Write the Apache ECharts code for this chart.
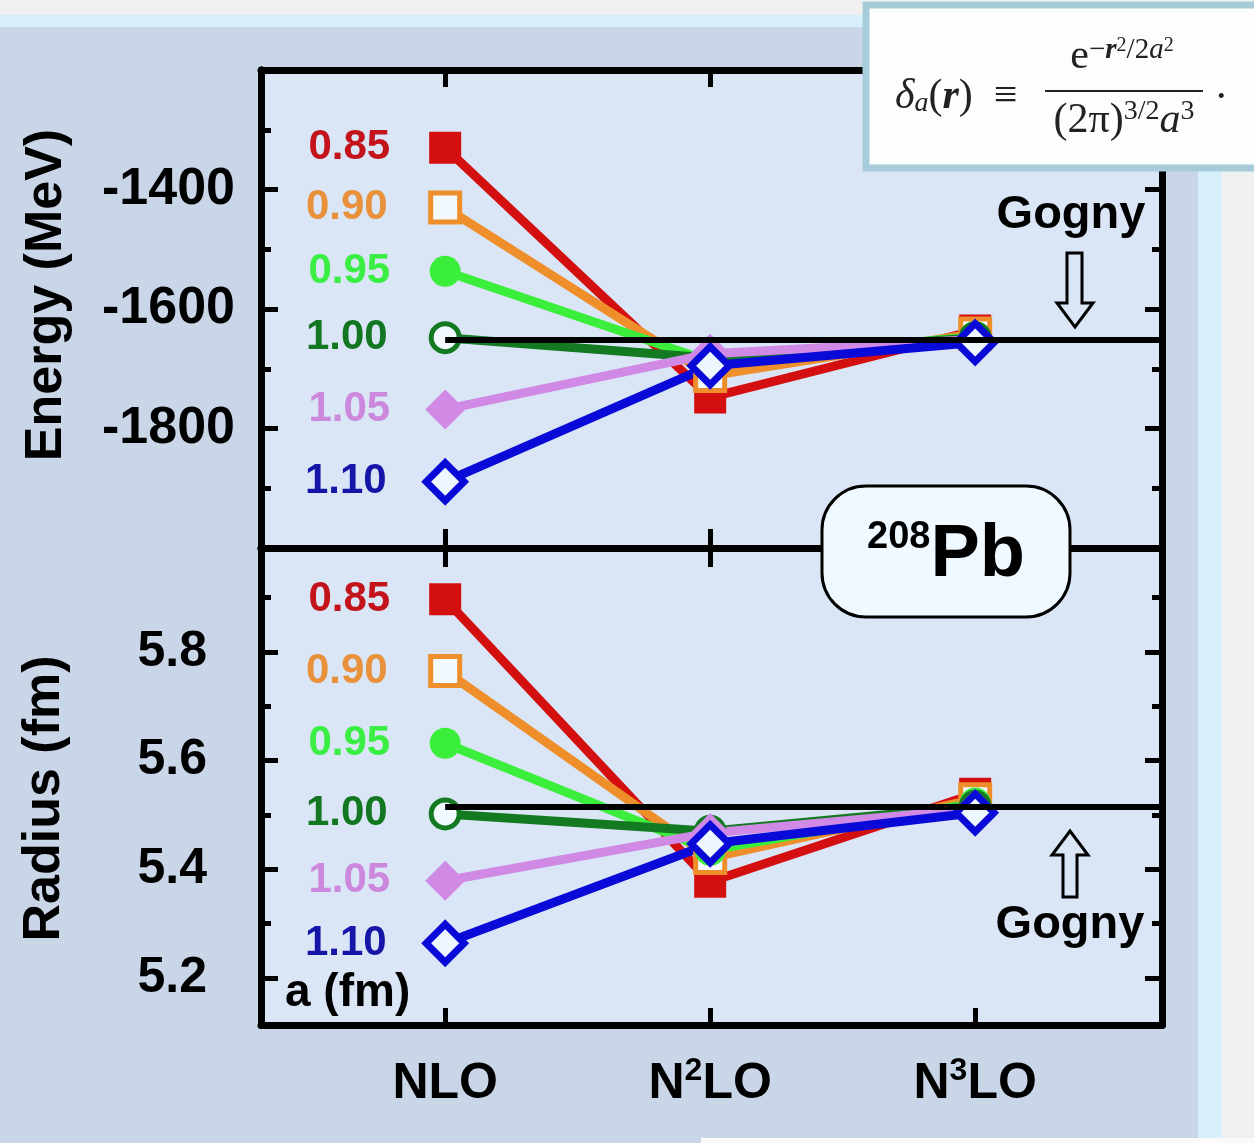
<!DOCTYPE html>
<html>
<head>
<meta charset="utf-8">
<script src="https://cdn.jsdelivr.net/npm/echarts@6/dist/echarts.min.js"></script>
<style>
  html, body { margin: 0; padding: 0; background: #f0f0f0; }
  #chart { width: 1254px; height: 1143px; }
</style>
</head>
<body>
<div id="chart"></div>
<script>
const chart = echarts.init(document.getElementById('chart'));

// x positions: 1 = NLO, 2 = N2LO, 3 = N3LO
const orders = [1, 2, 3];
const orderLabels = ['NLO', 'N{sup|2}LO', 'N{sup|3}LO'];
const aValues = ['0.85', '0.90', '0.95', '1.00', '1.05', '1.10'];

// binding energy of 208Pb (MeV)
const energy085 = [-1330, -1748, -1636];
const energy090 = [-1430, -1712, -1641];
const energy095 = [-1537, -1688, -1646];
const energy100 = [-1648, -1682, -1648];
const energy105 = [-1768, -1675, -1651];
const energy110 = [-1889, -1695, -1656];
const gognyEnergy = -1651;

// charge radius (fm)
const radius085 = [5.897, 5.377, 5.539];
const radius090 = [5.765, 5.421, 5.529];
const radius095 = [5.632, 5.435, 5.522];
const radius100 = [5.502, 5.470, 5.516];
const radius105 = [5.379, 5.467, 5.511];
const radius110 = [5.264, 5.447, 5.504];
const gognyRadius = 5.515;

const energyMajor = [-1800, -1600, -1400];
const energyMinor = [-1900, -1700, -1500, -1300];
const radiusMajor = [5.2, 5.4, 5.6, 5.8];
const radiusMinor = [5.3, 5.5, 5.7, 5.9];

const energySets = [energy085, energy090, energy095, energy100, energy105, energy110];
const radiusSets = [radius085, radius090, radius095, radius100, radius105, radius110];

const styles = [
  { line: '#d40f0f', text: '#c3141c', symbol: 'rect', size: 32, fill: '#d40f0f', border: 0 },
  { line: '#ef8f2c', text: '#e8903a', symbol: 'rect', size: 29, fill: '#f2faff', border: 5 },
  { line: '#3cee3c', text: '#3aee44', symbol: 'circle', size: 31, fill: '#3cee3c', border: 0 },
  { line: '#137a22', text: '#137722', symbol: 'circle', size: 28, fill: '#f2faff', border: 5 },
  { line: '#d08ae6', text: '#cc88dd', symbol: 'diamond', size: 40, fill: '#d08ae6', border: 0 },
  { line: '#0a0ad8', text: '#1515a8', symbol: 'diamond', size: 38, fill: '#eef6ff', border: 7 }
];

const xMin = 0.305, xMax = 3.705;
const plotBg = '#dae6f6';
const frame = 7;
const bold = { fontFamily: 'Liberation Sans, Arial, sans-serif', fontWeight: 'bold', color: '#000' };

const xAxisBase = (grid, pos, len, labels) => ({
  type: 'value', gridIndex: grid, position: pos, min: xMin, max: xMax,
  axisLine: { show: true, onZero: false, lineStyle: { color: '#000', width: frame } },
  axisTick: { show: true, inside: true, length: len, customValues: orders, lineStyle: { color: '#000', width: 5 } },
  axisLabel: labels
    ? {
        show: true, customValues: orders, margin: 30,
        formatter: (v) => orderLabels[Math.round(v) - 1],
        ...bold, fontSize: 50, lineHeight: 58,
        rich: { sup: { ...bold, fontSize: 32, lineHeight: 32, verticalAlign: 'top', padding: [0, 0, 24, 0] } }
      }
    : { show: false },
  splitLine: { show: false }
});

const yAxisBase = (grid, pos, min, max, ticks, len, label) => ({
  type: 'value', gridIndex: grid, position: pos, min: min, max: max,
  axisLine: { show: true, onZero: false, lineStyle: { color: '#000', width: frame } },
  axisTick: { show: true, inside: true, length: len, customValues: ticks, lineStyle: { color: '#000', width: 5 } },
  axisLabel: label ? { show: true, customValues: ticks, ...label } : { show: false },
  splitLine: { show: false }
});

const energyLabel = { ...bold, fontSize: 52, margin: 26, formatter: (v) => String(v) };
const radiusLabel = { ...bold, fontSize: 50, margin: 54, formatter: (v) => v.toFixed(1) };

const yAxes = [
  { ...yAxisBase(0, 'left', -2000, -1200, energyMajor, 17, energyLabel),
    name: 'Energy (MeV)', nameLocation: 'middle', nameRotate: 90, nameGap: 188,
    nameTextStyle: { ...bold, fontSize: 52, padding: [0, 0, 0, 28] } },
  yAxisBase(0, 'left', -2000, -1200, energyMinor, 10, null),
  yAxisBase(0, 'right', -2000, -1200, energyMajor, 17, null),
  yAxisBase(0, 'right', -2000, -1200, energyMinor, 10, null),
  { ...yAxisBase(1, 'left', 5.1135, 5.9914, radiusMajor, 17, radiusLabel),
    name: 'Radius (fm)', nameLocation: 'middle', nameRotate: 90, nameGap: 190,
    nameTextStyle: { ...bold, fontSize: 52, padding: [0, 0, 0, -24] } },
  yAxisBase(1, 'left', 5.1135, 5.9914, radiusMinor, 10, null),
  yAxisBase(1, 'right', 5.1135, 5.9914, radiusMajor, 17, null),
  yAxisBase(1, 'right', 5.1135, 5.9914, radiusMinor, 10, null)
];

const makeSeries = (values, i, xIdx, yIdx) => {
  const s = styles[i];
  return {
    type: 'line', name: aValues[i], xAxisIndex: xIdx, yAxisIndex: yIdx,
    symbol: s.symbol, symbolSize: s.size,
    lineStyle: { color: s.line, width: 9 },
    itemStyle: { color: s.fill, borderColor: s.line, borderWidth: s.border },
    emphasis: { disabled: true },
    data: values.map((v, k) => ({
      value: [orders[k], v],
      label: k === 0
        ? { show: true, position: 'left', distance: 445 - s.size / 2 - 390,
            formatter: aValues[i], ...bold, color: s.text, fontSize: 42 }
        : { show: false }
    }))
  };
};

// Gogny reference line, running from NLO to the right frame
const gognySeries = (xIdx, yIdx, val) => ({
  type: 'line', xAxisIndex: xIdx, yAxisIndex: yIdx, data: [], z: 1,
  markLine: {
    silent: true, symbol: 'none', label: { show: false },
    lineStyle: { color: '#000', width: 6, type: 'solid' },
    data: [[{ coord: [orders[0], val] }, { coord: [xMax, val] }]]
  }
});

const series = [gognySeries(0, 0, gognyEnergy), gognySeries(3, 4, gognyRadius)];
energySets.forEach((vals, i) => series.push(makeSeries(vals, i, 0, 0)));
radiusSets.forEach((vals, i) => series.push(makeSeries(vals, i, 3, 4)));

const serif = 'Liberation Serif, Times New Roman, serif';

chart.setOption({
  backgroundColor: '#f0f0f0',
  animation: false,
  grid: [
    { left: 261, right: 92, top: 70, height: 478, show: true, backgroundColor: plotBg, borderWidth: 0 },
    { left: 261, right: 92, top: 548, height: 477, show: true, backgroundColor: plotBg, borderWidth: 0 }
  ],
  xAxis: [
    xAxisBase(0, 'bottom', 19, false),
    xAxisBase(0, 'top', 17, false),
    xAxisBase(1, 'top', 19, false),
    xAxisBase(1, 'bottom', 17, true)
  ],
  yAxis: yAxes,
  series: series,
  graphic: [
    // page backdrop
    { type: 'rect', z: -10, silent: true, shape: { x: 0, y: 15, width: 1222, height: 1128 }, style: { fill: '#d6effb' } },
    { type: 'rect', z: -9, silent: true, shape: { x: 0, y: 27, width: 1198, height: 1116 }, style: { fill: '#c8d6e7' } },
    { type: 'rect', z: -8, silent: true, shape: { x: 701, y: 1138, width: 553, height: 5 }, style: { fill: '#fafafa' } },
    // formula box
    { type: 'rect', z: 100, shape: { x: 866, y: 5, width: 400, height: 163 }, style: { fill: '#fdfdfd', stroke: '#a8cbd9', lineWidth: 7 } },
    { type: 'text', z: 101, x: 895, y: 97, style: {
        text: '{i|δ}{sub|a}{n|(}{b|r}{n|)  ≡}', verticalAlign: 'middle', fill: '#222',
        rich: {
          i: { fontFamily: serif, fontStyle: 'italic', fontSize: 42, fill: '#222' },
          sub: { fontFamily: serif, fontStyle: 'italic', fontSize: 28, fill: '#222', verticalAlign: 'bottom', padding: [14, 0, 0, 0] },
          n: { fontFamily: serif, fontSize: 42, fill: '#222' },
          b: { fontFamily: serif, fontStyle: 'italic', fontWeight: 'bold', fontSize: 42, fill: '#222' }
        } } },
    { type: 'text', z: 101, x: 1122, y: 78, style: {
        text: '{n|e}{s|−}{sb|r}{ss|2}{s|/2}{si|a}{ss|2}', align: 'center', verticalAlign: 'bottom', fill: '#222',
        rich: {
          n: { fontFamily: serif, fontSize: 42, lineHeight: 42, fill: '#222' },
          s: { fontFamily: serif, fontSize: 29, lineHeight: 29, verticalAlign: 'top', fill: '#222' },
          sb: { fontFamily: serif, fontSize: 29, lineHeight: 29, fontStyle: 'italic', fontWeight: 'bold', verticalAlign: 'top', fill: '#222' },
          si: { fontFamily: serif, fontSize: 29, lineHeight: 29, fontStyle: 'italic', verticalAlign: 'top', fill: '#222' },
          ss: { fontFamily: serif, fontSize: 20, lineHeight: 20, verticalAlign: 'top', fill: '#222' }
        } } },
    { type: 'line', z: 101, shape: { x1: 1045, y1: 91, x2: 1203, y2: 91 }, style: { stroke: '#222', lineWidth: 2 } },
    { type: 'text', z: 101, x: 1124, y: 98, style: {
        text: '{n|(2π)}{s|3/2}{i|a}{s|3}', align: 'center', verticalAlign: 'top', fill: '#222',
        rich: {
          n: { fontFamily: serif, fontSize: 42, lineHeight: 46, fill: '#222' },
          i: { fontFamily: serif, fontSize: 42, lineHeight: 46, fontStyle: 'italic', fill: '#222' },
          s: { fontFamily: serif, fontSize: 28, lineHeight: 28, verticalAlign: 'top', fill: '#222' }
        } } },
    { type: 'text', z: 101, x: 1216, y: 108, style: { text: '.', fontFamily: serif, fontSize: 42, fill: '#222', verticalAlign: 'bottom' } },
    // 208Pb tag
    { type: 'rect', z: 100, shape: { x: 822, y: 486, width: 248, height: 131, r: 44 }, style: { fill: '#eff9ff', stroke: '#000', lineWidth: 3 } },
    { type: 'text', z: 101, x: 946, y: 556, style: {
        text: '{sup|208}{big|Pb}', align: 'center', verticalAlign: 'middle',
        rich: {
          sup: { ...bold, fill: '#000', fontSize: 38, lineHeight: 38, verticalAlign: 'top' },
          big: { ...bold, fill: '#000', fontSize: 74, lineHeight: 74 }
        } } },
    // Gogny annotations
    { type: 'text', z: 100, x: 1071, y: 215, style: { text: 'Gogny', ...bold, fill: '#000', fontSize: 47, align: 'center', verticalAlign: 'middle' } },
    { type: 'polygon', z: 100, shape: { points: [[1067, 253], [1082, 253], [1082, 303], [1093, 303], [1075, 327], [1057, 303], [1067, 303]] },
      style: { fill: 'none', stroke: '#000', lineWidth: 3 } },
    { type: 'polygon', z: 100, shape: { points: [[1070, 831], [1088, 855], [1077, 855], [1077, 897], [1063, 897], [1063, 855], [1052, 855]] },
      style: { fill: 'none', stroke: '#000', lineWidth: 3 } },
    { type: 'text', z: 100, x: 1070, y: 925, style: { text: 'Gogny', ...bold, fill: '#000', fontSize: 47, align: 'center', verticalAlign: 'middle' } },
    { type: 'text', z: 100, x: 285, y: 993, style: { text: 'a (fm)', ...bold, fill: '#000', fontSize: 46, verticalAlign: 'middle' } }
  ]
});
</script>
</body>
</html>
